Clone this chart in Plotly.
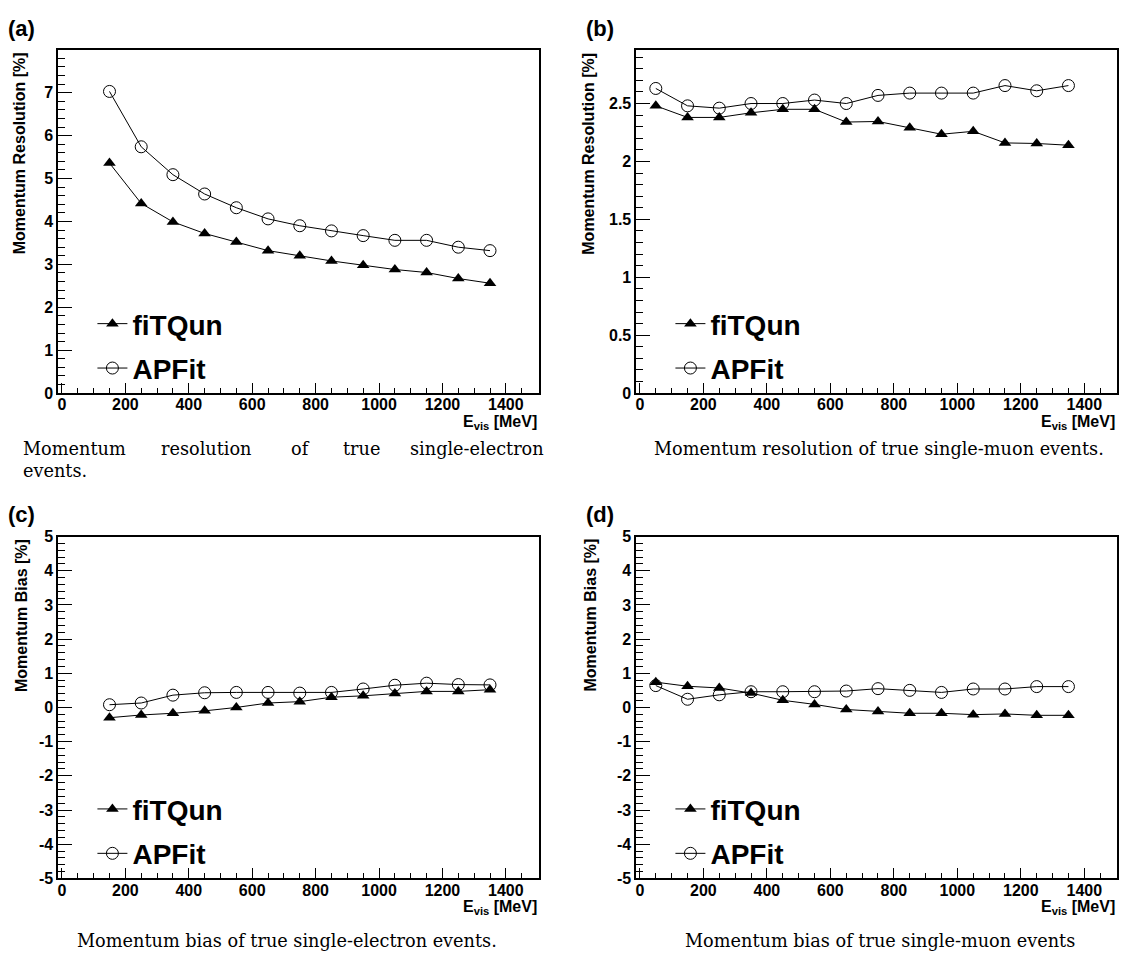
import plotly.graph_objects as go

# ------------------------------------------------------------
# data
# ------------------------------------------------------------
energy_e = [150, 250, 350, 450, 550, 650, 750, 850, 950, 1050, 1150, 1250, 1350]
energy_mu = [50, 150, 250, 350, 450, 550, 650, 750, 850, 950, 1050, 1150, 1250, 1350]

# (a) momentum resolution, single electron
res_e_fitqun = [5.36, 4.42, 3.99, 3.72, 3.52, 3.32, 3.20, 3.08, 2.98, 2.88, 2.81, 2.67, 2.56]
res_e_apfit = [7.03, 5.74, 5.09, 4.64, 4.32, 4.06, 3.90, 3.78, 3.67, 3.56, 3.56, 3.40, 3.32]

# (b) momentum resolution, single muon
res_mu_fitqun = [2.48, 2.38, 2.38, 2.42, 2.45, 2.45, 2.34, 2.345, 2.29, 2.235, 2.26, 2.16, 2.155, 2.14]
res_mu_apfit = [2.63, 2.48, 2.46, 2.50, 2.50, 2.53, 2.50, 2.57, 2.59, 2.59, 2.59, 2.655, 2.61, 2.655]

# (c) momentum bias, single electron
bias_e_fitqun = [-0.30, -0.22, -0.17, -0.10, 0.00, 0.13, 0.17, 0.30, 0.34, 0.41, 0.47, 0.47, 0.52]
bias_e_apfit = [0.08, 0.13, 0.36, 0.43, 0.44, 0.44, 0.42, 0.44, 0.54, 0.65, 0.71, 0.67, 0.66]

# (d) momentum bias, single muon
bias_mu_fitqun = [0.74, 0.62, 0.57, 0.42, 0.21, 0.09, -0.06, -0.12, -0.17, -0.17, -0.21, -0.19, -0.23, -0.23]
bias_mu_apfit = [0.64, 0.24, 0.37, 0.46, 0.46, 0.46, 0.48, 0.55, 0.50, 0.44, 0.54, 0.54, 0.61, 0.61]

# tick labels of the bias panels (ROOT prints a plain hyphen)
bias_ticks = [-5, -4, -3, -2, -1, 0, 1, 2, 3, 4, 5]
bias_ticktext = ['-5', '-4', '-3', '-2', '-1', '0', '1', '2', '3', '4', '5']

# ------------------------------------------------------------
# page geometry (pixels)
# ------------------------------------------------------------
W, H = 1134, 965
SANS = 'Liberation Sans'
SERIF = 'DejaVu Serif'


def px(x):
    return x / W


def py(y):
    return 1 - y / H


# frame boxes: (left, right, top, bottom)
frames = {
    'a': (57.5, 538, 43, 392),
    'b': (636, 1117, 43, 392),
    'c': (57.5, 538, 538, 886),
    'd': (636, 1117, 538, 886),
}
# x centre of the rotated y titles
ytitle_x = {'a': 18, 'b': 588, 'c': 20, 'd': 590}

fig = go.Figure()

panels = [
    ('a', '', energy_e, res_e_fitqun, res_e_apfit, 'legend'),
    ('b', '2', energy_mu, res_mu_fitqun, res_mu_apfit, 'legend2'),
    ('c', '3', energy_e, bias_e_fitqun, bias_e_apfit, 'legend3'),
    ('d', '4', energy_mu, bias_mu_fitqun, bias_mu_apfit, 'legend4'),
]

for key, sfx, xs, y_fq, y_ap, leg in panels:
    fig.add_trace(go.Scatter(
        x=xs, y=y_fq, name='fiTQun', mode='lines+markers',
        line=dict(color='black', width=1),
        marker=dict(symbol='triangle-up', size=11, color='black'),
        xaxis='x' + sfx, yaxis='y' + sfx,
        legend=leg, legendgroup=key + 'fq',
    ))
    fig.add_trace(go.Scatter(
        x=xs, y=y_ap, name='APFit', mode='lines+markers',
        line=dict(color='black', width=1),
        marker=dict(symbol='circle-open', size=12, color='black',
                    line=dict(width=1, color='black')),
        xaxis='x' + sfx, yaxis='y' + sfx,
        legend=leg, legendgroup=key + 'ap',
    ))

tick_font = dict(family=SANS, size=16, color='black', weight='bold')


def x_axis(key, anchor):
    l, r, t, b = frames[key]
    return dict(
        domain=[px(l), px(r)], anchor=anchor, range=[-11, 1503],
        tick0=0, dtick=200, ticks='inside', ticklen=10, tickwidth=1,
        tickcolor='black', showline=True, linewidth=2, linecolor='black',
        mirror=True, showgrid=False, zeroline=False, tickfont=tick_font,
        ticklabelstandoff=-4,
        minor=dict(dtick=50, tick0=0, ticks='inside', ticklen=5,
                   tickwidth=1, tickcolor='black', showgrid=False),
    )


def y_axis(key, anchor, yrange, dtick, minor_dtick, tickvals=None, ticktext=None):
    l, r, t, b = frames[key]
    ax = dict(
        domain=[py(b), py(t)], anchor=anchor, range=yrange,
        tick0=0, dtick=dtick, ticks='inside', ticklen=14, tickwidth=1,
        tickcolor='black', showline=True, linewidth=2, linecolor='black',
        mirror=True, showgrid=False, zeroline=False, tickfont=tick_font,
        minor=dict(dtick=minor_dtick, tick0=0, ticks='inside', ticklen=7,
                   tickwidth=1, tickcolor='black', showgrid=False),
    )
    if tickvals is not None:
        ax.update(tickmode='array', tickvals=tickvals, ticktext=ticktext)
    return ax


def legend_at(key):
    l, r, t, b = frames[key]
    return dict(
        x=px(l + 34), y=py(b - 48), xanchor='left', yanchor='middle',
        font=dict(family=SANS, size=28, color='black', weight='bold'),
        bgcolor='rgba(0,0,0,0)', tracegroupgap=5, itemwidth=30,
    )


fig.update_layout(
    width=W, height=H,
    margin=dict(l=0, r=0, t=0, b=0),
    paper_bgcolor='white', plot_bgcolor='white',
    font=dict(family=SANS, color='black'),
    xaxis=x_axis('a', 'y'),
    yaxis=y_axis('a', 'x', [0, 7.99], 1, 0.2),
    xaxis2=x_axis('b', 'y2'),
    yaxis2=y_axis('b', 'x2', [0, 2.96], 0.5, 0.1),
    xaxis3=x_axis('c', 'y3'),
    yaxis3=y_axis('c', 'x3', [-5, 5], 1, 0.2, bias_ticks, bias_ticktext),
    xaxis4=x_axis('d', 'y4'),
    yaxis4=y_axis('d', 'x4', [-5, 5], 1, 0.2, bias_ticks, bias_ticktext),
    legend=legend_at('a'),
    legend2=legend_at('b'),
    legend3=legend_at('c'),
    legend4=legend_at('d'),
)

# panel letters, axis titles
y_titles = {
    'a': 'Momentum Resolution [%]',
    'b': 'Momentum Resolution [%]',
    'c': 'Momentum Bias [%]',
    'd': 'Momentum Bias [%]',
}
for key, (l, r, t, b) in frames.items():
    fig.add_annotation(
        text='(' + key + ')', xref='paper', yref='paper',
        x=px(l - 52), y=py(t - 37), xanchor='left', yanchor='top',
        showarrow=False,
        font=dict(family=SANS, size=22, color='black', weight='bold'),
    )
    fig.add_annotation(
        text=y_titles[key], textangle=-90, xref='paper', yref='paper',
        x=px(ytitle_x[key]), y=py(t), xanchor='center', yanchor='top',
        showarrow=False,
        font=dict(family=SANS, size=16, color='black', weight='bold'),
    )
    fig.add_annotation(
        text='E<sub>vis</sub> [MeV]', xref='paper', yref='paper',
        x=px(r), y=py(b + 18), xanchor='right', yanchor='top',
        showarrow=False,
        font=dict(family=SANS, size=16, color='black', weight='bold'),
    )

# captions
cap_font = dict(family=SERIF, size=17.7, color='black')
caption_a_words = ['Momentum', 'resolution', 'of', 'true', 'single-electron']
caption_a_x = [20, 158, 288, 340, 407]
for word, xw in zip(caption_a_words, caption_a_x):
    fig.add_annotation(text=word, xref='paper', yref='paper', x=px(xw), y=py(461),
                       xanchor='left', yanchor='bottom', showarrow=False, font=cap_font)
fig.add_annotation(text='events.', xref='paper', yref='paper', x=px(20), y=py(484),
                   xanchor='left', yanchor='bottom', showarrow=False, font=cap_font)

captions = [
    ('Momentum resolution of true single-muon events.', 879, 461),
    ('Momentum bias of true single-electron events.', 286, 962),
    ('Momentum bias of true single-muon events', 880, 962),
]
for text, xc, yb in captions:
    fig.add_annotation(text=text, xref='paper', yref='paper', x=px(xc), y=py(yb),
                       xanchor='center', yanchor='bottom', showarrow=False, font=cap_font)

fig.write_html(
    'out.html',
    config={'displayModeBar': False},
    post_script=("document.body.style.margin='0px';"
                 "document.body.style.overflow='hidden';"
                 "document.documentElement.style.overflow='hidden';"),
)
